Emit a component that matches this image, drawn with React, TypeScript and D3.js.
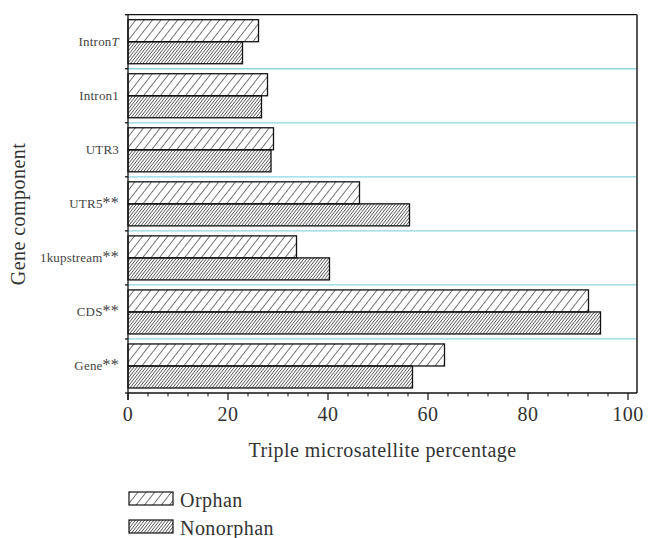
import React from "react";
import * as d3 from "d3";

// Gene components, listed from top to bottom of the chart
const categories = ["IntronT", "Intron1", "UTR3", "UTR5", "1kupstream", "CDS", "Gene"];
const significant = [false, false, false, true, true, true, true];
const orphan = [26.1, 27.9, 29.1, 46.3, 33.7, 92.1, 63.3];
const nonorphan = [22.9, 26.7, 28.6, 56.3, 40.3, 94.5, 56.9];
const seriesNames = ["Orphan", "Nonorphan"];
const xTicks = [0, 20, 40, 60, 80, 100];

const W = 648;
const H = 538;
const left = 128;
const right = 637;
const top = 14.7;
const bottom = 393;
const FONT = "'Liberation Serif', 'DejaVu Serif', serif";

export default function App() {
  const x = d3.scaleLinear().domain([0, 101.8]).range([left, right]);
  const band = d3.scaleBand<string>().domain(categories).range([top, bottom]);
  const bw = band.bandwidth();
  const pad = 5;
  const barH = (bw - 2 * pad) / 2;
  const minorTicks = d3.range(0, 101, 4).filter((v) => v % 20 !== 0);
  const boundaries = d3.range(categories.length + 1).map((i) => top + i * bw);

  return (
    <svg
      width={W}
      height={H}
      style={{ position: "absolute", left: 0, top: 0, background: "#fff" }}
      fontFamily={FONT}
    >
      <defs>
        <pattern id="hatchSparse" patternUnits="userSpaceOnUse" width={6.6} height={10} patternTransform="rotate(38)">
          <line x1={0} y1={0} x2={0} y2={10} stroke="#111" strokeWidth={1.15} />
        </pattern>
        <pattern id="hatchDense" patternUnits="userSpaceOnUse" width={2.4} height={10} patternTransform="rotate(38)">
          <line x1={0} y1={0} x2={0} y2={10} stroke="#111" strokeWidth={1.15} />
        </pattern>
      </defs>

      {/* separators between components */}
      {boundaries.slice(1, -1).map((y, i) => (
        <line key={"sep" + i} x1={left} x2={right} y1={y} y2={y} stroke="#8fd6df" strokeWidth={1.3} />
      ))}

      {/* bars */}
      {categories.map((c, i) => {
        const y0 = band(c)! + pad;
        return (
          <g key={c}>
            <rect x={x(0)} y={y0} width={x(orphan[i]) - x(0)} height={barH}
              fill="url(#hatchSparse)" stroke="#111" strokeWidth={1.3} />
            <rect x={x(0)} y={y0 + barH} width={x(nonorphan[i]) - x(0)} height={barH}
              fill="url(#hatchDense)" stroke="#111" strokeWidth={1.3} />
          </g>
        );
      })}

      {/* frame */}
      <line x1={left} x2={right} y1={top} y2={top} stroke="#111" strokeWidth={1.3} />
      <line x1={right} x2={right} y1={top} y2={bottom} stroke="#555" strokeWidth={2} />
      <line x1={left} x2={left} y1={top} y2={bottom + 7} stroke="#111" strokeWidth={1.3} />
      <line x1={left} x2={right} y1={bottom} y2={bottom} stroke="#111" strokeWidth={1.3} />

      {/* y ticks at band boundaries */}
      {boundaries.map((y, i) => (
        <line key={"yt" + i} x1={left - 3} x2={left} y1={y} y2={y} stroke="#111" strokeWidth={1.3} />
      ))}

      {/* x ticks */}
      {xTicks.map((v) => (
        <g key={"xt" + v}>
          <line x1={x(v)} x2={x(v)} y1={bottom} y2={bottom + 7} stroke="#111" strokeWidth={1.2} />
          <text x={x(v)} y={421} textAnchor="middle" fontSize={20} letterSpacing={0.5} fill="#333">{v}</text>
        </g>
      ))}
      {minorTicks.map((v) => (
        <line key={"mt" + v} x1={x(v)} x2={x(v)} y1={bottom} y2={bottom + 3.5} stroke="#111" strokeWidth={1} />
      ))}

      {/* category labels */}
      {categories.map((c, i) => {
        const cy = band(c)! + bw / 2 + 4.5;
        return (
          <text key={"lab" + c} x={119} y={cy} textAnchor="end" fontSize={13} letterSpacing={0.2} fill="#444">
            {c === "IntronT" ? (
              <>
                Intron<tspan fontStyle="italic">T</tspan>
              </>
            ) : (
              c
            )}
            {significant[i] && <tspan fontSize={16}>**</tspan>}
          </text>
        );
      })}

      {/* axis titles */}
      <text x={(left + right) / 2} y={457} textAnchor="middle" fontSize={20} letterSpacing={0.45} fill="#333">
        Triple microsatellite percentage
      </text>
      <text transform={`translate(25, 214) rotate(-90)`} textAnchor="middle" fontSize={20} letterSpacing={0.45} fill="#333">
        Gene component
      </text>

      {/* legend */}
      {seriesNames.map((s, i) => (
        <g key={"lg" + s} transform={`translate(129, ${492 + i * 28})`}>
          <rect x={0} y={0} width={44} height={13}
            fill={i === 0 ? "url(#hatchSparse)" : "url(#hatchDense)"} stroke="#111" strokeWidth={1.2} />
          <text x={51} y={14.5} fontSize={20} letterSpacing={0.45} fill="#333">{s}</text>
        </g>
      ))}
    </svg>
  );
}
